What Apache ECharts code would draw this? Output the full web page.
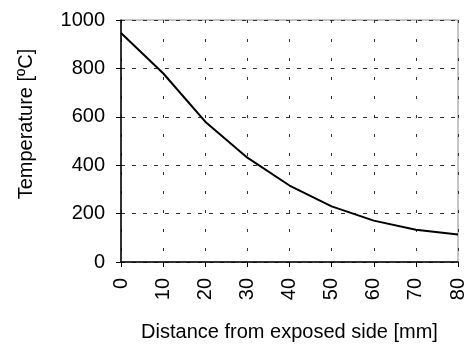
<!DOCTYPE html>
<html>
<head>
<meta charset="utf-8">
<script src="https://cdn.jsdelivr.net/npm/echarts@6/dist/echarts.min.js"></script>
<style>
  html, body { margin: 0; padding: 0; background: #fff; }
  #chart { width: 468px; height: 347px; }
</style>
</head>
<body>
<div id="chart"></div>
<script>
// distance from exposed side [mm]
const distances = [0, 10, 20, 30, 40, 50, 60, 70, 80];
// temperature [ºC]
const temperatures = [946, 780, 580, 431, 316, 230, 171, 133, 114];

const chart = echarts.init(document.getElementById('chart'));
const font = 'Liberation Sans, Arial, sans-serif';

const option = {
  animation: false,
  grid: {
    left: 121,
    right: 5,
    top: 20,
    bottom: 81,
    show: true,
    borderColor: '#8c8c8c',
    borderWidth: 1
  },
  xAxis: {
    type: 'value',
    min: 0,
    max: 80,
    interval: 10,
    name: 'Distance from exposed side [mm]',
    nameLocation: 'middle',
    nameGap: 60,
    nameTextStyle: { fontFamily: font, fontSize: 20, color: '#000' },
    axisLine: { lineStyle: { color: '#000', width: 1.5 } },
    axisTick: { show: true, length: 5, lineStyle: { color: '#000' } },
    axisLabel: { rotate: 90, margin: 16, fontFamily: font, fontSize: 20, color: '#000' },
    splitLine: { show: true, lineStyle: { color: '#333', type: [3, 16], width: 1 } }
  },
  yAxis: {
    type: 'value',
    min: 0,
    max: 1000,
    interval: 200,
    name: 'Temperature [ºC]',
    nameLocation: 'middle',
    nameGap: 85,
    nameTextStyle: { fontFamily: font, fontSize: 20, color: '#000', padding: [0, 0, 0, 34] },
    axisLine: { show: true, lineStyle: { color: '#000', width: 1.5 } },
    axisTick: { show: true, length: 5, lineStyle: { color: '#000' } },
    axisLabel: { margin: 16, fontFamily: font, fontSize: 20, color: '#000', formatter: v => String(v) },
    splitLine: { show: true, lineStyle: { color: '#333', type: [4, 7], width: 1 } }
  },
  series: [{
    type: 'line',
    data: distances.map((d, i) => [d, temperatures[i]]),
    showSymbol: false,
    lineStyle: { color: '#000', width: 2 }
  }]
};

chart.setOption(option);
</script>
</body>
</html>
